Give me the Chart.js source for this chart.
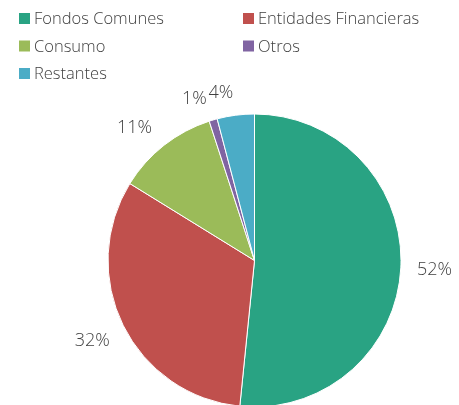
<!DOCTYPE html>
<html>
<head>
<meta charset="utf-8">
<script src="https://cdn.jsdelivr.net/npm/chart.js@4/dist/chart.umd.min.js"></script>
<style>
  html, body { margin: 0; padding: 0; background: #ffffff; }
  #wrap { width: 459px; height: 405px; position: relative; }
</style>
</head>
<body>
<div id="wrap"><canvas id="c" width="459" height="405"></canvas></div>
<script>
const categories = ['Fondos Comunes', 'Entidades Financieras', 'Consumo', 'Otros', 'Restantes'];
const shares = [51.6, 32.2, 11.2, 0.9, 4.1];
const colors = ['#29A383', '#C0504D', '#9BBB59', '#8064A2', '#4BACC6'];

const FONT = '"Open Sans", "Liberation Sans", sans-serif';
const TEXT_COLOR = '#404040';

const legendPlugin = {
  id: 'gridLegend',
  afterDraw(chart) {
    const ctx = chart.ctx;
    const labels = chart.data.labels;
    const ds = chart.data.datasets[0];
    ctx.save();
    ctx.font = '300 16.5px ' + FONT;
    ctx.textBaseline = 'alphabetic';
    ctx.textAlign = 'left';
    const colX = [19, 243];
    const rowBase = [24, 51.5, 79];
    labels.forEach((lab, i) => {
      const col = i % 2, row = Math.floor(i / 2);
      const bx = colX[col], by = rowBase[row];
      ctx.fillStyle = ds.backgroundColor[i];
      ctx.fillRect(bx, by - 11, 11, 11);
      ctx.fillStyle = TEXT_COLOR;
      ctx.fillText(lab, bx + 15, by);
    });
    ctx.restore();
  }
};

const outsideLabels = {
  id: 'outsideLabels',
  afterDatasetsDraw(chart) {
    const ctx = chart.ctx;
    const meta = chart.getDatasetMeta(0);
    const data = chart.data.datasets[0].data;
    ctx.save();
    ctx.font = '300 18px ' + FONT;
    ctx.fillStyle = TEXT_COLOR;
    ctx.textAlign = 'center';
    ctx.textBaseline = 'middle';
    const gap = 16, h = 12;
    meta.data.forEach((arc, i) => {
      const p = arc.getProps(['x', 'y', 'startAngle', 'endAngle', 'outerRadius'], true);
      let mid = (p.startAngle + p.endAngle) / 2;
      // labels in the crowded upper-left quarter are eased counter-clockwise
      const norm = ((mid + Math.PI / 2) % (2 * Math.PI) + 2 * Math.PI) % (2 * Math.PI);
      if (norm > 1.5 * Math.PI) mid -= 4 * Math.PI / 180;
      const c = Math.cos(mid), s = Math.sin(mid);
      const txt = Math.round(data[i]) + '%';
      const w = ctx.measureText(txt).width;
      const ext = Math.abs(c) * w / 2 + Math.abs(s) * h / 2;
      const d = p.outerRadius + gap + ext;
      ctx.fillText(txt, p.x + c * d, p.y + s * d);
    });
    ctx.restore();
  }
};

new Chart(document.getElementById('c'), {
  type: 'pie',
  data: {
    labels: categories,
    datasets: [{
      data: shares,
      backgroundColor: colors,
      borderColor: '#ffffff',
      borderWidth: 1,
      radius: 146.5,
      clip: false
    }]
  },
  options: {
    responsive: false,
    animation: false,
    layout: { padding: { top: 116, bottom: 0, left: 50, right: 0 } },
    plugins: {
      legend: { display: false },
      tooltip: { enabled: false }
    }
  },
  plugins: [outsideLabels, legendPlugin]
});
</script>
</body>
</html>
